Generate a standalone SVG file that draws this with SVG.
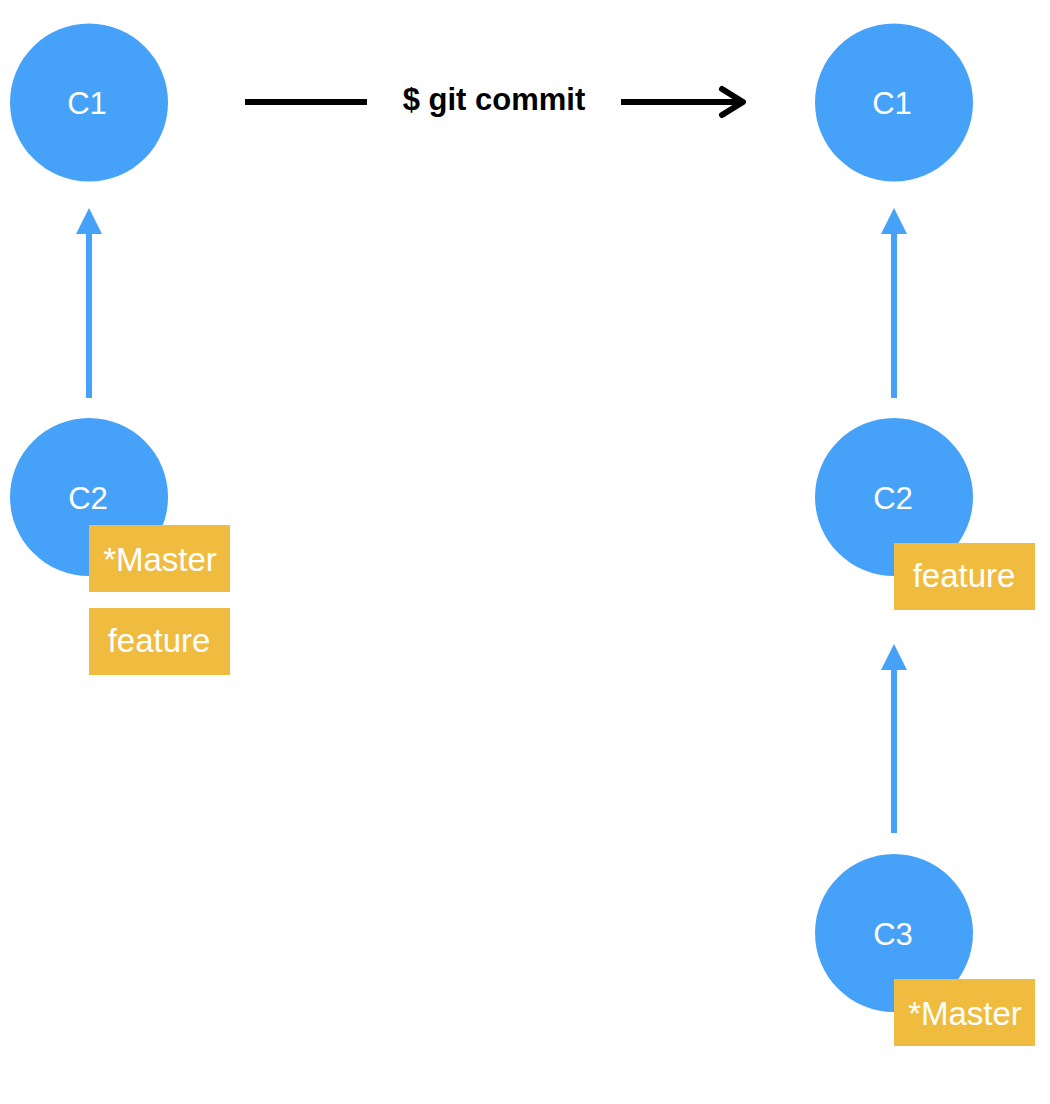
<svg xmlns="http://www.w3.org/2000/svg" width="1050" height="1104" viewBox="0 0 1050 1104">
<style>
.node{fill:#45A2F8}
.nl{font-family:"Liberation Sans",Arial,sans-serif;font-size:31px;fill:#fff;text-anchor:middle}
.tag{fill:#F0BC40}
.tl{font-family:"Liberation Sans",Arial,sans-serif;font-size:33px;fill:#fff;text-anchor:middle}
.edge{stroke:#45A2F8;stroke-width:6;fill:none}
.cmd{font-family:"Liberation Sans",Arial,sans-serif;font-size:31px;font-weight:bold;fill:#000;text-anchor:middle}
</style>
<rect width="1050" height="1104" fill="#fff"/>
<g id="connectors">
<line class="edge" x1="89" y1="398" x2="89" y2="232"/>
<path d="M89,208 L76,234 L102,234 Z" fill="#45A2F8"/>
<line class="edge" x1="894" y1="398" x2="894" y2="232"/>
<path d="M894,208 L881,234 L907,234 Z" fill="#45A2F8"/>
<line class="edge" x1="894" y1="833" x2="894" y2="668"/>
<path d="M894,644 L881,670 L907,670 Z" fill="#45A2F8"/>
</g>
<g id="command">
<line x1="245" y1="102" x2="367" y2="102" stroke="#000" stroke-width="6"/>
<text class="cmd" x="494" y="110">$ git commit</text>
<line x1="621" y1="102" x2="743" y2="102" stroke="#000" stroke-width="6"/>
<path d="M722,89 L743,102 L722,115" fill="none" stroke="#000" stroke-width="6" stroke-linecap="round" stroke-linejoin="round"/>
</g>
<g id="left-c1">
<circle class="node" cx="89" cy="102.5" r="79"/>
<text class="nl" x="87" y="114">C1</text>
</g>
<g id="left-c2">
<circle class="node" cx="89" cy="497" r="79"/>
<text class="nl" x="88" y="509">C2</text>
</g>
<g id="left-master">
<rect class="tag" x="89" y="525" width="141" height="67"/>
<text class="tl" x="160" y="571">*Master</text>
</g>
<g id="left-feature">
<rect class="tag" x="89" y="608" width="141" height="67"/>
<text class="tl" x="159" y="652">feature</text>
</g>
<g id="right-c1">
<circle class="node" cx="894" cy="102.5" r="79"/>
<text class="nl" x="892" y="114">C1</text>
</g>
<g id="right-c2">
<circle class="node" cx="894" cy="497" r="79"/>
<text class="nl" x="893" y="509">C2</text>
</g>
<g id="right-feature">
<rect class="tag" x="894" y="543" width="141" height="67"/>
<text class="tl" x="964" y="587">feature</text>
</g>
<g id="right-c3">
<circle class="node" cx="894" cy="933" r="79"/>
<text class="nl" x="893" y="945">C3</text>
</g>
<g id="right-master">
<rect class="tag" x="894" y="979" width="141" height="67"/>
<text class="tl" x="965" y="1025">*Master</text>
</g>
</svg>
